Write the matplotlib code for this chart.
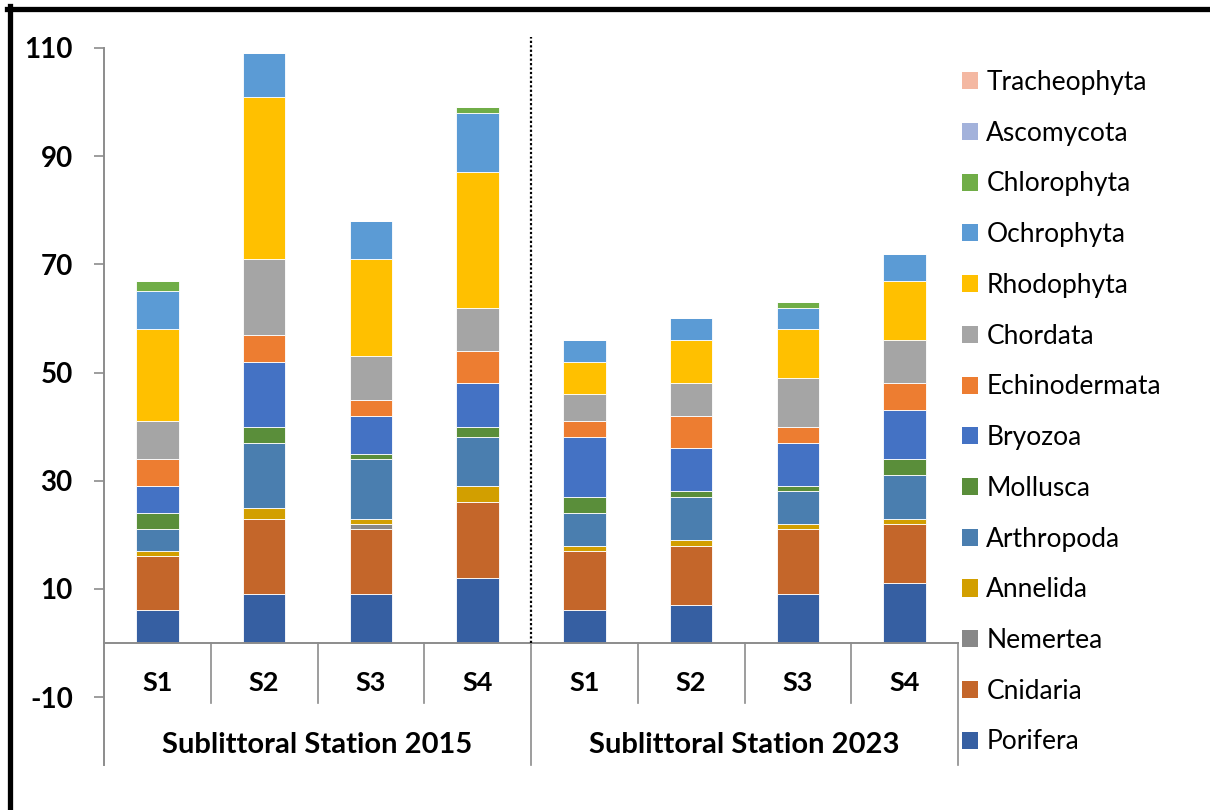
import matplotlib.pyplot as plt
from matplotlib.lines import Line2D
from matplotlib.patches import Patch

# Datos (8 barras: S1-S4 de 2015 y S1-S4 de 2023)
estaciones = ["S1", "S2", "S3", "S4", "S1", "S2", "S3", "S4"]
grupos = ["Sublittoral Station 2015", "Sublittoral Station 2023"]

porifera = [6, 9, 9, 12, 6, 7, 9, 11]
cnidaria = [10, 14, 12, 14, 11, 11, 12, 11]
nemertea = [0, 0, 1, 0, 0, 0, 0, 0]
annelida = [1, 2, 1, 3, 1, 1, 1, 1]
arthropoda = [4, 12, 11, 9, 6, 8, 6, 8]
mollusca = [3, 3, 1, 2, 3, 1, 1, 3]
bryozoa = [5, 12, 7, 8, 11, 8, 8, 9]
echinodermata = [5, 5, 3, 6, 3, 6, 3, 5]
chordata = [7, 14, 8, 8, 5, 6, 9, 8]
rhodophyta = [17, 30, 18, 25, 6, 8, 9, 11]
ochrophyta = [7, 8, 7, 11, 4, 4, 4, 5]
chlorophyta = [2, 0, 0, 1, 0, 0, 1, 0]
ascomycota = [0, 0, 0, 0, 0, 0, 0, 0]
tracheophyta = [0, 0, 0, 0, 0, 0, 0, 0]

# Orden de apilado (de abajo hacia arriba) con sus colores
series = [
    ("Porifera", porifera, "#365FA2"),
    ("Cnidaria", cnidaria, "#C4662A"),
    ("Nemertea", nemertea, "#888888"),
    ("Annelida", annelida, "#D29F00"),
    ("Arthropoda", arthropoda, "#4A7EAF"),
    ("Mollusca", mollusca, "#5A8E3A"),
    ("Bryozoa", bryozoa, "#4472C4"),
    ("Echinodermata", echinodermata, "#ED7D31"),
    ("Chordata", chordata, "#A5A5A5"),
    ("Rhodophyta", rhodophyta, "#FFC000"),
    ("Ochrophyta", ochrophyta, "#5B9BD5"),
    ("Chlorophyta", chlorophyta, "#70AD47"),
    ("Ascomycota", ascomycota, "#A3B2DB"),
    ("Tracheophyta", tracheophyta, "#F4B8A2"),
]

plt.rcParams["font.family"] = ["Lato", "DejaVu Sans"]
plt.rcParams["axes.unicode_minus"] = False
gris = "#8C8C8C"

fig = plt.figure(figsize=(12.1, 8.1), dpi=100)
ax = fig.add_axes([104 / 1210, 113 / 810, 854 / 1210, 649 / 810])

x = [i + 0.5 for i in range(len(estaciones))]
base = [0] * len(estaciones)
for nombre, valores, color in series:
    ax.bar(x, valores, width=0.4, bottom=base, color=color,
           edgecolor="white", linewidth=0.6, label=nombre)
    base = [b + v for b, v in zip(base, valores)]

# Ejes
ax.set_xlim(0, 8)
ax.set_ylim(-10, 110)
ax.set_yticks([-10, 10, 30, 50, 70, 90, 110])
ax.tick_params(axis="y", length=7.5, width=1.2, color=gris, pad=15,
               labelsize=20)
for t in ax.get_yticklabels():
    t.set_fontweight("bold")
ax.set_xticks([])
for s in ax.spines.values():
    s.set_visible(False)

# Linea del eje vertical y ejes de categorias (estilo Excel)
ax.plot([0, 0], [110, -22.6], color=gris, lw=1.4, clip_on=False)
ax.plot([0, 8], [0, 0], color=gris, lw=1.4, clip_on=False)
for i in [1, 2, 3, 5, 6, 7]:
    ax.plot([i, i], [0, -11.1], color=gris, lw=1.2, clip_on=False)
for i in [4, 8]:
    ax.plot([i, i], [0, -22.6], color=gris, lw=1.2, clip_on=False)

# Etiquetas de estaciones y grupos
for xi, nombre in zip(x, estaciones):
    ax.text(xi, -7.4, nombre, ha="center", va="center", fontsize=19.5,
            fontweight="bold", clip_on=False)
ax.text(2, -18.8, grupos[0], ha="center", va="center", fontsize=21,
        fontweight="bold", clip_on=False)
ax.text(6, -18.8, grupos[1], ha="center", va="center", fontsize=21,
        fontweight="bold", clip_on=False)

# Linea punteada que separa los dos anos
ax.plot([4, 4], [0, 112], color="black", lw=1.6, ls=(0, (1, 1)),
        clip_on=False)

# Leyenda (orden inverso, Tracheophyta arriba)
handles = [Patch(facecolor=c, edgecolor="none") for _, _, c in series][::-1]
labels = [n for n, _, _ in series][::-1]
fig.legend(handles, labels, loc="upper left",
           bbox_to_anchor=(962 / 1210, (810 - 70) / 810),
           frameon=False, fontsize=19, handlelength=0.62, handleheight=0.62,
           handletextpad=0.3, labelspacing=0.975, borderpad=0,
           borderaxespad=0)

# Marco negro (arriba e izquierda)
fig.add_artist(Line2D([7 / 1210, 1], [1 - 8.5 / 810, 1 - 8.5 / 810],
                      transform=fig.transFigure, color="black", lw=3.8))
fig.add_artist(Line2D([9.5 / 1210, 9.5 / 1210], [0, 1 - 6 / 810],
                      transform=fig.transFigure, color="black", lw=3.8))

fig.savefig("out.png", dpi=100)
